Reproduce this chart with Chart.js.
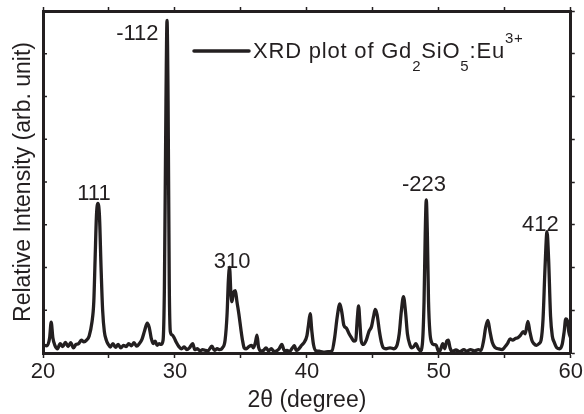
<!DOCTYPE html>
<html>
<head>
<meta charset="utf-8">
<script src="https://cdn.jsdelivr.net/npm/chart.js@4.4.0/dist/chart.umd.min.js"></script>
<style>
  html, body { margin: 0; padding: 0; background: #fff; }
  #wrap { width: 584px; height: 414px; }
</style>
</head>
<body>
<div id="wrap"><canvas id="xrdChart"></canvas></div>
<script>
// 2-theta positions (degree) and relative intensity
const twoTheta = [
  20.0, 20.3, 20.5, 20.62, 20.75, 20.9, 21.1, 21.3, 21.5, 21.7, 21.9, 22.1, 22.3, 22.5, 22.7, 22.9,
  23.1, 23.3, 23.5, 23.7, 23.85, 23.95, 24.05, 24.16, 24.28, 24.4, 24.52, 24.65, 24.8, 24.95,
  25.1, 25.3, 25.5, 25.7, 25.9, 26.1, 26.3, 26.5, 26.7, 26.9, 27.1, 27.3, 27.5, 27.7, 27.9, 28.05,
  28.2, 28.35, 28.5, 28.65, 28.8, 28.95, 29.1, 29.2, 29.32, 29.4, 29.48, 29.57, 29.65, 29.8, 29.95,
  30.1, 30.3, 30.5, 30.7, 30.9, 31.1, 31.35, 31.5, 31.7, 31.9, 32.1, 32.3, 32.5, 32.8, 33.0, 33.2,
  33.4, 33.6, 33.8, 33.95, 34.05, 34.14, 34.24, 34.32, 34.45, 34.58, 34.7, 34.85, 35.0, 35.12,
  35.25, 35.4, 35.6, 35.8, 35.95, 36.1, 36.22, 36.33, 36.5, 36.7, 36.9, 37.1, 37.3, 37.5, 37.7,
  37.9, 38.1, 38.3, 38.5, 38.7, 38.9, 39.05, 39.2, 39.4, 39.6, 39.8, 40.0, 40.12, 40.25, 40.38,
  40.5, 40.7, 41.0, 41.3, 41.6, 41.9, 42.1, 42.3, 42.5, 42.65, 42.8, 43.0, 43.2, 43.4, 43.55, 43.7,
  43.82, 43.92, 44.02, 44.12, 44.3, 44.5, 44.7, 44.9, 45.05, 45.18, 45.32, 45.5, 45.65, 45.8, 46.0,
  46.3, 46.6, 46.85, 47.0, 47.15, 47.32, 47.48, 47.62, 47.8, 47.95, 48.1, 48.26, 48.45, 48.6, 48.75,
  48.88, 48.97, 49.05, 49.13, 49.22, 49.32, 49.45, 49.6, 49.8, 50.0, 50.15, 50.3, 50.45, 50.6,
  50.72, 50.85, 51.0, 51.3, 51.6, 51.9, 52.1, 52.4, 52.7, 53.0, 53.2, 53.4, 53.55, 53.72, 53.88,
  54.05, 54.25, 54.5, 54.8, 55.0, 55.2, 55.4, 55.6, 55.8, 56.0, 56.2, 56.4, 56.55, 56.75, 56.9,
  57.05, 57.2, 57.4, 57.6, 57.75, 57.9, 58.05, 58.2, 58.32, 58.47, 58.6, 58.75, 58.95, 59.15,
  59.35, 59.5, 59.62, 59.75, 59.85, 60.0
];
const intensity = [
  0.18, 0.17, 0.35, 0.72, 0.35, 0.18, 0.10, 0.22, 0.15, 0.25, 0.15, 0.24, 0.12, 0.20, 0.22, 0.30,
  0.26, 0.30, 0.40, 0.70, 1.20, 2.20, 3.20, 3.50, 3.20, 2.00, 1.00, 0.50, 0.30, 0.20,
  0.14, 0.22, 0.13, 0.20, 0.12, 0.18, 0.15, 0.22, 0.17, 0.24, 0.16, 0.22, 0.32, 0.52, 0.70, 0.60,
  0.35, 0.22, 0.28, 0.18, 0.22, 0.20, 0.30, 1.50, 5.90, 7.78, 5.90, 1.60, 0.50, 0.42, 0.35,
  0.25, 0.15, 0.10, 0.14, 0.08, 0.12, 0.22, 0.08, 0.10, 0.05, 0.08, 0.06, 0.05, 0.16, 0.06, 0.10,
  0.08, 0.12, 0.30, 0.90, 1.70, 2.00, 1.40, 1.20, 1.42, 1.46, 1.20, 0.90, 0.55, 0.30,
  0.12, 0.10, 0.15, 0.18, 0.12, 0.25, 0.42, 0.15, 0.05, 0.06, 0.12, 0.05, 0.10, 0.04, 0.05,
  0.10, 0.20, 0.05, 0.06, 0.04, 0.12, 0.17, 0.06, 0.10, 0.18, 0.25, 0.40, 0.65, 0.92, 0.50,
  0.20, 0.05, 0.04, 0.02, 0.03, 0.05, 0.35, 0.85, 1.15, 0.95, 0.65, 0.58, 0.45, 0.35, 0.28, 0.30,
  0.80, 1.10, 0.70, 0.28, 0.20, 0.30, 0.50, 0.62, 0.85, 1.02, 0.90, 0.50, 0.25, 0.12, 0.10,
  0.12, 0.10, 0.20, 0.45, 0.95, 1.32, 0.95, 0.45, 0.20, 0.12, 0.15, 0.22, 0.10, 0.05, 0.20,
  1.20, 2.80, 3.58, 2.80, 1.20, 0.50, 0.25, 0.20, 0.18, 0.02, 0.10, 0.22, 0.10, 0.28,
  0.30, 0.12, 0.04, 0.07, 0.03, 0.08, 0.04, 0.08, 0.05, 0.08, 0.06, 0.30, 0.60, 0.76, 0.50,
  0.25, 0.13, 0.10, 0.08, 0.14, 0.22, 0.33, 0.30, 0.34, 0.36, 0.42, 0.50, 0.45, 0.74, 0.50,
  0.30, 0.22, 0.18, 0.22, 0.30, 0.80, 2.00, 2.84, 2.20, 0.85, 0.40, 0.25, 0.12, 0.10,
  0.20, 0.50, 0.80, 0.75, 0.50, 0.35
];

// Miller index labels and where their text sits (degree, intensity units)
const peakLabels = ['111', '-112', '310', '-223', '412'];
const labelX = [23.86, 27.15, 34.33, 48.88, 57.69];
const labelY = [3.58, 7.31, 1.98, 3.80, 2.85];

const ink = '#231f20';
const fontFamily = "'Liberation Sans', Arial, Helvetica, sans-serif";
Chart.defaults.font.family = fontFamily;
Chart.defaults.color = ink;

const points = twoTheta.map((t, i) => ({ x: t, y: intensity[i] }));

// inward tick marks on the left axis
const leftTicks = {
  id: 'leftTicks',
  afterDraw(chart) {
    const ctx = chart.ctx;
    const ys = chart.scales.y;
    const left = chart.chartArea.left;
    ctx.save();
    ctx.strokeStyle = ink;
    ctx.lineWidth = 1.5;
    ys.ticks.forEach(t => {
      const py = ys.getPixelForValue(t.value);
      ctx.beginPath();
      ctx.moveTo(left, py);
      ctx.lineTo(left + 4, py);
      ctx.stroke();
    });
    ctx.restore();
  }
};

// peak labels and the legend with sub/superscripts
const annotations = {
  id: 'annotations',
  afterDatasetsDraw(chart) {
    const ctx = chart.ctx;
    const xs = chart.scales.x, ys = chart.scales.y;
    ctx.save();
    ctx.fillStyle = ink;
    ctx.font = '22px ' + fontFamily;
    ctx.textAlign = 'center';
    ctx.textBaseline = 'alphabetic';
    peakLabels.forEach((lbl, i) => {
      ctx.fillText(lbl, xs.getPixelForValue(labelX[i]), ys.getPixelForValue(labelY[i]));
    });

    // legend
    const area = chart.chartArea;
    const lx = area.left + 151;
    const ly = area.top + 40;
    ctx.strokeStyle = ink;
    ctx.lineWidth = 3.5;
    ctx.lineCap = 'round';
    ctx.beginPath();
    ctx.moveTo(lx, ly);
    ctx.lineTo(lx + 55, ly);
    ctx.stroke();

    ctx.textAlign = 'left';
    if ('letterSpacing' in ctx) ctx.letterSpacing = '0.8px';
    const parts = [
      ['XRD plot of Gd', 0, 22],
      ['2', 13, 15],
      ['SiO', 0, 22],
      ['5', 13, 15],
      [':Eu', 0, 22],
      ['3+', -15, 15]
    ];
    let tx = lx + 59;
    const base = ly + 7;
    parts.forEach(([txt, dy, size]) => {
      ctx.font = size + 'px ' + fontFamily;
      ctx.fillText(txt, tx, base + dy);
      tx += ctx.measureText(txt).width;
    });
    ctx.restore();
  }
};

new Chart(document.getElementById('xrdChart'), {
  type: 'scatter',
  data: {
    datasets: [{
      label: 'XRD plot of Gd2SiO5:Eu3+',
      data: points,
      showLine: true,
      borderColor: ink,
      borderWidth: 3.3,
      borderJoinStyle: 'round',
      pointRadius: 0,
      cubicInterpolationMode: 'monotone',
      fill: false
    }]
  },
  options: {
    responsive: true,
    maintainAspectRatio: false,
    animation: false,
    devicePixelRatio: 1,
    layout: { padding: { top: 7, right: 8, left: 0, bottom: 0 } },
    plugins: {
      legend: { display: false },
      tooltip: { enabled: false }
    },
    scales: {
      x: {
        type: 'linear',
        position: 'bottom',
        min: 20,
        max: 60,
        border: { color: ink, width: 3 },
        grid: { drawOnChartArea: false, tickLength: 5, tickWidth: 1.5, tickColor: ink },
        ticks: {
          stepSize: 5,
          autoSkip: false,
          maxRotation: 0,
          padding: 1,
          font: { size: 22 },
          callback: v => (v % 10 === 0 ? v : '')
        },
        title: {
          display: true,
          text: '2θ (degree)',
          font: { size: 23 },
          padding: { top: 0, bottom: 0 }
        }
      },
      xTop: {
        type: 'linear',
        position: 'top',
        min: 20,
        max: 60,
        border: { color: ink, width: 3 },
        grid: { drawOnChartArea: false, tickLength: 4, tickWidth: 1.5, tickColor: ink },
        ticks: { display: false, stepSize: 5 }
      },
      y: {
        type: 'linear',
        position: 'left',
        min: 0,
        max: 8,
        border: { color: ink, width: 3 },
        grid: { drawOnChartArea: false, drawTicks: false },
        ticks: { display: false, stepSize: 1 },
        title: {
          display: true,
          text: 'Relative Intensity (arb. unit)',
          font: { size: 23 },
          padding: { top: 10.2, bottom: 5.2 }
        }
      },
      yRight: {
        type: 'linear',
        position: 'right',
        min: 0,
        max: 8,
        border: { color: ink, width: 3 },
        grid: { drawOnChartArea: false, tickLength: 4, tickWidth: 1.5, tickColor: ink },
        ticks: { display: false, stepSize: 1 }
      }
    }
  },
  plugins: [leftTicks, annotations]
});
</script>
</body>
</html>
